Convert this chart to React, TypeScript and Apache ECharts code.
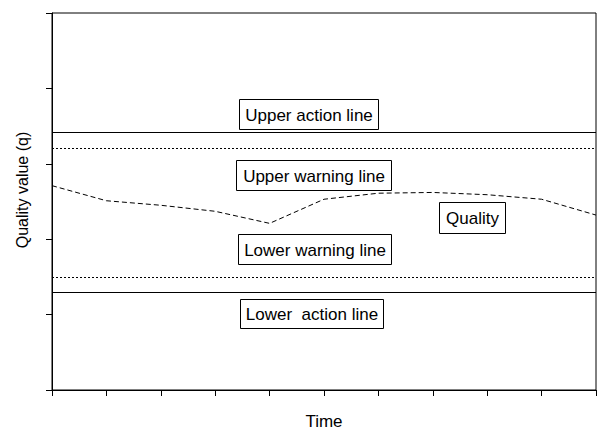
import React, { useEffect, useRef } from "react";
import * as echarts from "echarts";

// ---- data ----
const timePoints = ["0", "1", "2", "3", "4", "5", "6", "7", "8", "9", "10"];
const qualityValues = [2.71, 2.51, 2.45, 2.37, 2.21, 2.53, 2.61, 2.62, 2.59, 2.53, 2.32];
const upperActionLine = 3.42;
const upperWarningLine = 3.21;
const lowerWarningLine = 1.5;
const lowerActionLine = 1.3;
const annotationTexts = [
  "Upper action line",
  "Upper warning line",
  "Quality",
  "Lower warning line",
  "Lower  action line",
];
const yAxisTitle = "Quality value (q)";
const xAxisTitle = "Time";

// ---- layout of annotation boxes (pixels) ----
const boxLayout = [
  { x: 239, y: 99, w: 139, h: 30 },
  { x: 236, y: 160, w: 155, h: 30 },
  { x: 439, y: 202, w: 66, h: 31 },
  { x: 238, y: 234, w: 153, h: 30 },
  { x: 240, y: 299, w: 143, h: 29 },
];

const FONT = '"Liberation Sans", Arial, Helvetica, sans-serif';

export default function App() {
  const ref = useRef<HTMLDivElement>(null);
  useEffect(() => {
    if (!ref.current) return;
    document.body.style.margin = "0";
    const chart = echarts.init(ref.current, undefined, { renderer: "svg" });
    const graphics: any[] = [];
    annotationTexts.forEach((t, i) => {
      const b = boxLayout[i];
      graphics.push({
        type: "rect",
        z: 100,
        shape: { x: b.x + 0.5, y: b.y + 0.5, width: b.w, height: b.h },
        style: { fill: "#ffffff", stroke: "#000000", lineWidth: 1 },
      });
      graphics.push({
        type: "text",
        z: 101,
        x: b.x + b.w / 2 + 0.5,
        y: b.y + b.h / 2 + 1,
        style: {
          text: t,
          fill: "#000000",
          font: `17px ${FONT}`,
          align: "center",
          verticalAlign: "middle",
        },
      });
    });
    graphics.push({
      type: "text",
      x: 22,
      y: 190,
      rotation: Math.PI / 2,
      style: {
        text: yAxisTitle,
        fill: "#000000",
        font: `16px ${FONT}`,
        align: "center",
        verticalAlign: "middle",
      },
    });

    chart.setOption({
      animation: false,
      backgroundColor: "#ffffff",
      grid: {
        left: 52,
        right: 14,
        top: 13,
        bottom: 42,
        show: true,
        borderColor: "#000000",
        borderWidth: 1,
        backgroundColor: "transparent",
      },
      xAxis: {
        type: "category",
        data: timePoints,
        boundaryGap: false,
        name: xAxisTitle,
        nameLocation: "middle",
        nameGap: 23,
        nameTextStyle: { color: "#000000", fontSize: 17, fontFamily: FONT },
        axisLine: { show: true, lineStyle: { color: "#000000", width: 1 } },
        axisTick: { show: true, interval: 0, length: 6, lineStyle: { color: "#000000" } },
        axisLabel: { show: false },
        splitLine: { show: false },
      },
      yAxis: {
        type: "value",
        min: 0,
        max: 5,
        interval: 1,
        axisLine: { show: true, lineStyle: { color: "#000000", width: 1 } },
        axisTick: { show: true, length: 6, lineStyle: { color: "#000000" } },
        axisLabel: { show: false },
        splitLine: { show: false },
      },
      graphic: graphics,
      series: [
        {
          type: "line",
          data: qualityValues,
          symbol: "none",
          lineStyle: { color: "#000000", width: 1, type: [5, 3] },
          silent: true,
          markLine: {
            silent: true,
            symbol: "none",
            label: { show: false },
            data: [
              { yAxis: upperActionLine, lineStyle: { color: "#000000", width: 1, type: "solid" } },
              { yAxis: upperWarningLine, lineStyle: { color: "#000000", width: 1, type: [2, 2] } },
              { yAxis: lowerWarningLine, lineStyle: { color: "#000000", width: 1, type: [2, 2] } },
              { yAxis: lowerActionLine, lineStyle: { color: "#000000", width: 1, type: "solid" } },
            ],
          },
        },
      ],
    });
    return () => chart.dispose();
  }, []);
  return <div ref={ref} style={{ width: 610, height: 435 }} />;
}
